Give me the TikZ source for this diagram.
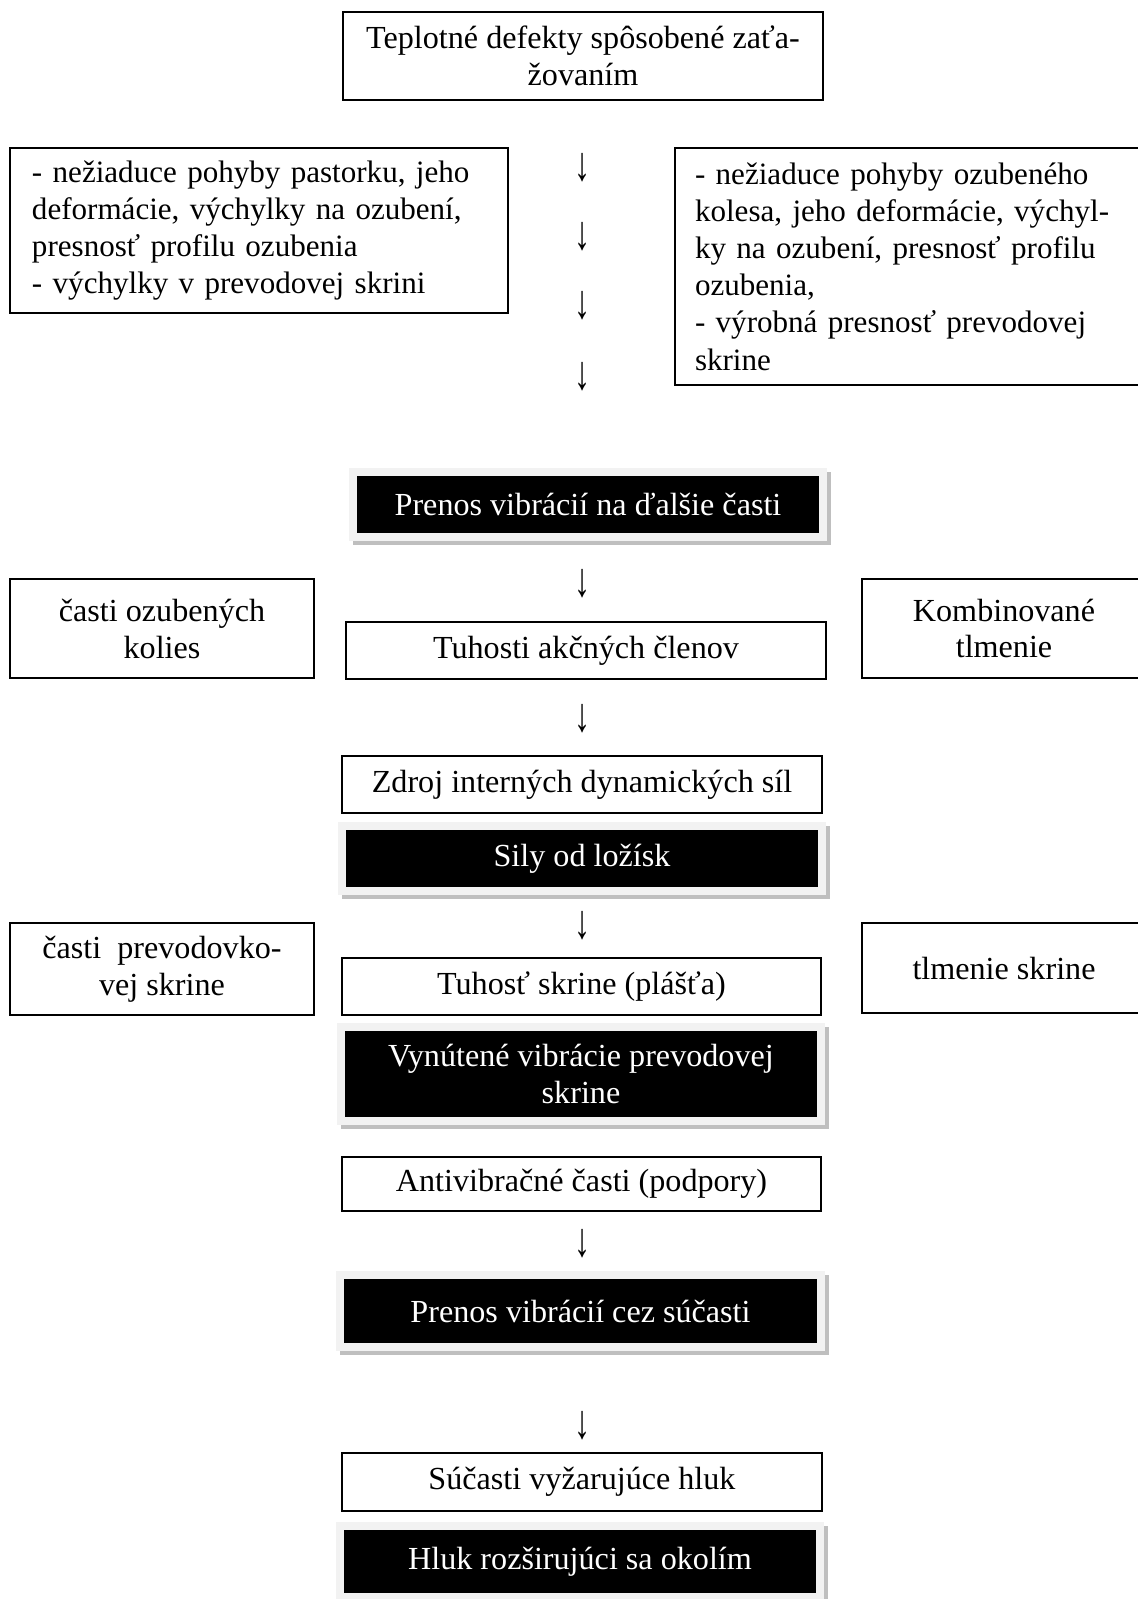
\documentclass[tikz,border=0pt]{standalone}
\usepackage{fontspec}
\setmainfont{Liberation Serif}
\usepackage{graphicx}
\usepackage{tikz}
\newcommand{\pxl}{0.01312cm}
\newcommand{\downmark}{\scalebox{1}[1.5]{↓}}
\definecolor{framegray}{HTML}{F2F2F2}
\definecolor{shadegray}{HTML}{BFBFBF}

\begin{document}
\begin{tikzpicture}[x=\pxl, y=-\pxl,
  every node/.style={font=\fontsize{12}{13.8}\selectfont, inner sep=0pt},
  box/.style={draw, line width=.6pt, fill=white, align=center},
  listbox/.style={box, align=left, font=\fontsize{11.6}{13.9}\selectfont},
  darkbox/.style={fill=black, text=white, align=center,
    preaction={draw=shadegray, line width=16*\pxl, line join=miter,
      transform canvas={shift={(4,4)}}},
    preaction={draw=framegray, line width=16*\pxl, line join=miter}}]
\useasboundingbox (0,0) rectangle (1137,1599);

\node (defekty) at (583,56) [box, minimum width=480*\pxl, minimum height=88*\pxl] {Teplotné defekty spôsobené zaťa-\\žovaním};

\node (pastorok) at (259,230.5) [listbox, minimum width=498*\pxl, minimum height=165*\pxl, text width=454*\pxl]
  {- nežiaduce pohyby pastorku, jeho\\deformácie, výchylky na ozubení,\\presnosť profilu ozubenia\\- výchylky v prevodovej skrini};
\node (koleso) at (917.5,266.5) [listbox, minimum width=485*\pxl, minimum height=237*\pxl, text width=445*\pxl]
  {- nežiaduce pohyby ozubeného\\kolesa, jeho deformácie, výchyl-\\ky na ozubení, presnosť profilu\\ozubenia,\\- výrobná presnosť prevodovej\\skrine};

\node (a1) at (583,168) {\downmark};
\node (a2) at (583,237) {\downmark};
\node (a3) at (583,306) {\downmark};
\node (a4) at (583,377) {\downmark};

\node (prenos) at (588,504.5) [darkbox, minimum width=462*\pxl, minimum height=57*\pxl] {Prenos vibrácií na ďalšie časti};
\node (a5) at (583,584) {\downmark};

\node (kolies) at (162,628.5) [box, minimum width=304*\pxl, minimum height=99*\pxl] {časti ozubených\\kolies};
\node (clenov) at (586,650.5) [box, minimum width=480*\pxl, minimum height=57*\pxl] {Tuhosti akčných členov};
\node (kombin) at (1004,628.5) [box, minimum width=284*\pxl, minimum height=99*\pxl] {Kombinované\\tlmenie};
\node (a6) at (583,719) {\downmark};

\node (zdroj) at (582,784.5) [box, minimum width=480*\pxl, minimum height=57*\pxl] {Zdroj interných dynamických síl};
\node (lozisk) at (582,858.5) [darkbox, minimum width=472*\pxl, minimum height=57*\pxl] {Sily od ložísk};
\node (a7) at (583,926) {\downmark};

\node (castiskr) at (162,969) [box, minimum width=304*\pxl, minimum height=92*\pxl] {časti~~prevodovko-\\vej skrine};
\node (tuhost) at (581.5,986.5) [box, minimum width=479*\pxl, minimum height=57*\pxl] {Tuhosť skrine (plášťa)};
\node (tlmenie) at (1004,968) [box, minimum width=284*\pxl, minimum height=90*\pxl] {tlmenie skrine};

\node (vynutene) at (581,1074) [darkbox, minimum width=472*\pxl, minimum height=86*\pxl] {Vynútené vibrácie prevodovej\\skrine};
\node (podpory) at (581.5,1184) [box, minimum width=479*\pxl, minimum height=54*\pxl] {Antivibračné časti (podpory)};
\node (a8) at (583,1244) {\downmark};

\node (sucasti) at (580.5,1311) [darkbox, minimum width=473*\pxl, minimum height=64*\pxl] {Prenos vibrácií cez súčasti};
\node (a9) at (583,1426) {\downmark};

\node (hluk) at (582,1482) [box, minimum width=480*\pxl, minimum height=58*\pxl] {Súčasti vyžarujúce hluk};
\node (okolim) at (580,1561.5) [darkbox, minimum width=472*\pxl, minimum height=63*\pxl] {Hluk rozširujúci sa okolím};
\end{tikzpicture}
\end{document}
